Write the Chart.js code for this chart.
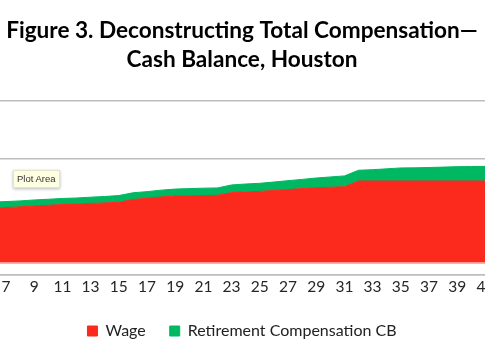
<!DOCTYPE html>
<html><head><meta charset="utf-8">
<script src="https://cdn.jsdelivr.net/npm/chart.js@4/dist/chart.umd.min.js"></script>
<style>
html,body{margin:0;padding:0;width:485px;height:360px;overflow:hidden;background:#fff;position:relative}
#wrap{position:absolute;left:-30px;top:0;width:544px;height:360px}
#tip{position:absolute;left:13px;top:170px;padding:3px 3px 3px 3px;background:#fefee2;border:1px solid #e4e4cc;box-shadow:0 1px 3px rgba(0,0,0,0.28);font:9.5px "Liberation Sans",Arial,sans-serif;color:#333;line-height:10px;white-space:nowrap}
</style></head><body>
<div id="wrap"><canvas id="c" width="544" height="360"></canvas></div>
<div id="tip">Plot Area</div>
<script>
const years = [5,6,7,8,9,10,11,12,13,14,15,16,17,18,19,20,21,22,23,24,25,26,27,28,29,30,31,32,33,34,35,36,37,38,39,40,41];
const wage = [28500,28700,28900,29200,29600,29900,30200,30400,30700,30900,31200,32400,32900,33500,33900,34000,34100,34200,35400,35700,35900,36300,36700,37100,37500,37700,37900,40400,40400,40400,40400,40400,40400,40400,40400,40400,40400];
const retirementCB = [2300,2500,2600,2600,2600,2600,2650,2650,2700,2800,2900,2900,2900,2950,3000,3100,3200,3200,3300,3400,3500,3650,3850,4000,4200,4450,4700,4650,4900,5250,5650,5700,5850,6000,6200,6250,6350];
const seriesNames = ['Wage','Retirement Compensation CB'];
const titleLines = ['Figure 3. Deconstructing Total Compensation\u2014','Cash Balance, Houston'];
const yMin = 0, yMax = 75000, yStep = 25000;
const wageBase = 5100;

const baseLine = {
  id: 'baseLine',
  afterDatasetsDraw(chart) {
    const {ctx, chartArea: a, scales: {y}} = chart;
    const py = Math.round(y.getPixelForValue(wageBase)) + 0.5;
    ctx.save();
    ctx.strokeStyle = '#c4c4c4';
    ctx.lineWidth = 1;
    ctx.beginPath(); ctx.moveTo(a.left, py); ctx.lineTo(a.right, py); ctx.stroke();
    ctx.restore();
  }
};

new Chart(document.getElementById('c'), {
  type: 'line',
  data: {
    labels: years,
    datasets: [
      {label: seriesNames[0], data: wage, backgroundColor: '#fb2a1c', borderColor: '#fb2a1c', borderWidth: 1, pointRadius: 0, tension: 0, fill: {value: wageBase}},
      {label: seriesNames[1], data: retirementCB, backgroundColor: '#00b862', borderColor: '#00b862', borderWidth: 1, pointRadius: 0, tension: 0, fill: '-1'}
    ]
  },
  options: {
    responsive: false,
    animation: false,
    events: [],
    layout: {padding: {top: 0, bottom: 11, left: 0, right: 0}},
    plugins: {
      tooltip: {enabled: false},
      title: {display: true, text: titleLines, color: '#000', font: {family: 'Lato', size: 22.6, weight: 'bold', lineHeight: 29/22.6}, padding: {top: 16.5, bottom: 26.5}},
      legend: {display: true, position: 'bottom', labels: {color: '#222', font: {family: 'Lato', size: 16}, boxWidth: 10, boxHeight: 10, padding: 24}}
    },
    scales: {
      x: {
        offset: false,
        grid: {display: false, drawTicks: false},
        border: {display: true, color: '#bdbdbd', width: 1.5},
        ticks: {autoSkip: false, maxRotation: 0, minRotation: 0, padding: 3, color: '#262626', font: {family: 'Lato', size: 15.5},
          callback: (v, i) => (i % 2 === 0 ? String(years[i]) : '')}
      },
      y: {
        stacked: true, min: yMin, max: yMax,
        grid: {color: '#bdbdbd', lineWidth: 1.5, drawTicks: false},
        border: {display: false},
        ticks: {display: false, stepSize: yStep},
        afterFit: s => { s.width = 7.8; }
      },
      yR: {
        position: 'right', display: true, min: 0, max: 1,
        grid: {display: false, drawTicks: false},
        border: {display: false},
        ticks: {display: false},
        afterFit: s => { s.width = 28.6; }
      }
    }
  },
  plugins: [baseLine]
});
</script>
</body></html>
